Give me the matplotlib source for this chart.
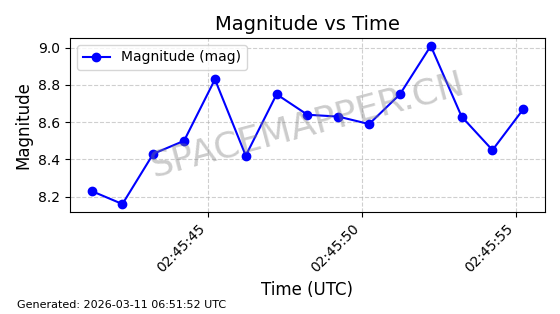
import numpy as np
import pandas as pd
import matplotlib
matplotlib.use("Agg")
import matplotlib.pyplot as plt
import matplotlib.dates as mdates

# data
start_time = "2026-03-11 02:45:41.23"
n_points = 15
magnitudes = [8.23, 8.16, 8.43, 8.50, 8.83, 8.42, 8.75, 8.64, 8.63, 8.59,
              8.75, 9.01, 8.63, 8.45, 8.67]
times = pd.date_range(start=start_time, periods=n_points, freq="1s")

fig = plt.figure(figsize=(5.6, 3.14), dpi=100)
ax = fig.add_axes([0.125, 0.325, 0.848, 0.554])

ax.plot(times, magnitudes, color="blue", marker="o", markersize=6,
        linewidth=1.5, label="Magnitude (mag)")

ax.set_title("Magnitude vs Time", fontsize=14)
ax.set_xlabel("Time (UTC)", fontsize=12)
ax.set_ylabel("Magnitude", fontsize=12)
ax.grid(True, linestyle="--", alpha=0.6)
ax.legend(loc="upper left")

ax.xaxis.set_major_locator(mdates.SecondLocator(bysecond=[45, 50, 55]))
ax.xaxis.set_major_formatter(mdates.DateFormatter("%H:%M:%S"))
plt.setp(ax.get_xticklabels(), rotation=45, ha="right")
ax.set_yticks([8.2, 8.4, 8.6, 8.8, 9.0])

ax.text(0.5, 0.5, "SPACEMAPPER.CN", transform=ax.transAxes, fontsize=26,
        color="gray", alpha=0.4, ha="center", va="center", rotation=15)

fig.text(0.03, 0.02, "Generated: 2026-03-11 06:51:52 UTC", fontsize=8)

fig.savefig("out.png", dpi=100)
